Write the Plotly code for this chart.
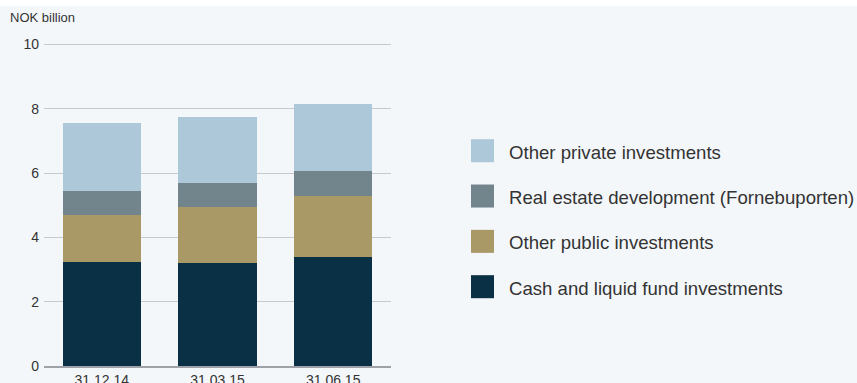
import plotly.graph_objects as go

# Quarter-end dates
categories = ["31.12.14", "31.03.15", "31.06.15"]

# Portfolio components, NOK billion
cash_liquid = [3.22, 3.19, 3.38]
other_public = [1.49, 1.74, 1.92]
real_estate = [0.72, 0.75, 0.75]
other_private = [2.14, 2.05, 2.11]

series_names = [
    "Cash and liquid fund investments",
    "Other public investments",
    "Real estate development (Fornebuporten)",
    "Other private investments",
]
series_values = [cash_liquid, other_public, real_estate, other_private]
series_colors = ["#0a3045", "#a99966", "#72848c", "#adc8d9"]

y_ticks = [0, 2, 4, 6, 8, 10]

FONT = "Liberation Sans, Arial, Helvetica, sans-serif"
TEXT = "#333333"
BG = "#f3f7fa"

fig = go.Figure()
for name, vals, col in zip(series_names, series_values, series_colors):
    fig.add_trace(go.Bar(
        x=categories, y=vals, name=name,
        marker=dict(color=col, line=dict(width=0)),
        showlegend=False,
    ))

# Legend drawn as large swatches with labels, top item = last stacked series
shapes = []
annotations = []
legend_top = 0.6564   # paper y of first swatch centre
legend_step = 0.1382
for i, (name, col) in enumerate(zip(reversed(series_names), reversed(series_colors))):
    yc = legend_top - i * legend_step
    shapes.append(dict(
        type="rect", xref="paper", yref="paper",
        x0=1.2305, x1=1.2968, y0=yc - 0.0351, y1=yc + 0.0351,
        fillcolor=col, line=dict(width=0), layer="above",
    ))
    annotations.append(dict(
        xref="paper", yref="paper", x=1.335, y=yc - 0.004,
        xanchor="left", yanchor="middle", showarrow=False,
        text=name, font=dict(family=FONT, size=18.6, color=TEXT),
    ))

# Thin white strip along the top of the page
shapes.append(dict(
    type="rect", xref="paper", yref="paper",
    x0=-0.5, x1=2.6, y0=1.0976, y1=1.3,
    fillcolor="white", line=dict(width=0), layer="below",
))

annotations.append(dict(
    xref="paper", yref="paper", x=-0.105, y=1.061,
    xanchor="left", yanchor="middle", showarrow=False,
    text="NOK billion", font=dict(family=FONT, size=13, color=TEXT),
))

fig.update_layout(
    barmode="stack",
    bargap=0.32,
    width=857, height=383,
    margin=dict(l=44, r=466, t=38, b=17, autoexpand=False),
    paper_bgcolor=BG,
    plot_bgcolor=BG,
    font=dict(family=FONT, size=14, color=TEXT),
    shapes=shapes,
    annotations=annotations,
    xaxis=dict(
        showline=True, linecolor="#9ea2a7", linewidth=2,
        showgrid=False, ticks="", tickfont=dict(size=14, color=TEXT),
        automargin=False,
    ),
    yaxis=dict(
        range=[0, 10.2], tickvals=y_ticks,
        showgrid=True, gridcolor="#c6cace", gridwidth=1,
        zeroline=False, showline=False, ticks="",
        ticklabelstandoff=4,
        tickfont=dict(size=14, color=TEXT), automargin=False,
    ),
)

fig.write_html("out.html")
